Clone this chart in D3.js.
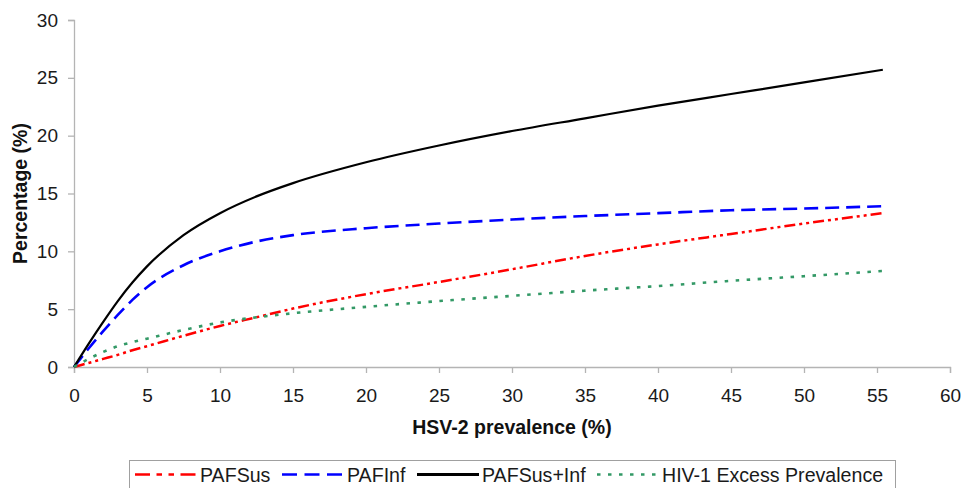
<!DOCTYPE html>
<html>
<head>
<meta charset="utf-8">
<script src="https://cdn.jsdelivr.net/npm/d3@7"></script>
<style>
  html, body { margin: 0; padding: 0; background: #fff; }
  svg { display: block; font-family: "Liberation Sans", Arial, sans-serif; }
</style>
</head>
<body>
<svg id="chart" width="963" height="488"></svg>
<script>
// ---- data ----
const hsv2 = [0, 1, 2, 3, 4, 5, 7.5, 10, 12.5, 15, 20, 25, 30, 35, 40, 45, 50, 55.4];
const pafSus = [0, 0.35, 0.7, 1.05, 1.45, 1.8, 2.7, 3.55, 4.3, 5.05, 6.3, 7.35, 8.45, 9.6, 10.6, 11.5, 12.4, 13.3];
const pafInf = [0, 1.6, 3.1, 4.5, 5.8, 6.9, 8.8, 10.0, 10.85, 11.4, 12.0, 12.4, 12.75, 13.05, 13.3, 13.55, 13.7, 13.9];
const pafSusInf = [0, 2.0, 3.9, 5.7, 7.3, 8.7, 11.4, 13.3, 14.75, 15.9, 17.7, 19.15, 20.4, 21.5, 22.6, 23.6, 24.6, 25.7];
const hivExcess = [0, 0.7, 1.3, 1.8, 2.15, 2.45, 3.2, 3.85, 4.3, 4.65, 5.2, 5.7, 6.15, 6.6, 7.0, 7.45, 7.85, 8.3];
const seriesNames = ["PAFSus", "PAFInf", "PAFSus+Inf", "HIV-1 Excess Prevalence"];
const xTicks = [0, 5, 10, 15, 20, 25, 30, 35, 40, 45, 50, 55, 60];
const yTicks = [0, 5, 10, 15, 20, 25, 30];
const xTitle = "HSV-2 prevalence (%)";
const yTitle = "Percentage (%)";

// ---- styles ----
const styles = [
  { color: "#ff0000", dash: "11,4,3,4,3,4", legendDash: "15,6.5,5.5,6.5,5.5,6.5", width: 2.5 },
  { color: "#0000ff", dash: "14,7", legendDash: "15,7.5", width: 2.6 },
  { color: "#000000", dash: null, legendDash: null, width: 2.2 },
  { color: "#339966", dash: "3.5,7.5", legendDash: "3.5,7.5", width: 2.6 }
];
const seriesValues = [pafSus, pafInf, pafSusInf, hivExcess];

const svg = d3.select("#chart");
const mLeft = 74, mRight = 950, mTop = 20, mBottom = 367;

const x = d3.scaleLinear().domain([0, 60]).range([mLeft, mRight]);
const y = d3.scaleLinear().domain([0, 30]).range([mBottom, mTop]);
const axisColor = "#b4b4b4";

// x axis
const gx = svg.append("g").attr("transform", `translate(0,${mBottom})`)
  .call(d3.axisBottom(x).tickValues(xTicks).tickSize(6).tickPadding(16).tickFormat(d3.format("d")));
// y axis
const gy = svg.append("g").attr("transform", `translate(${mLeft},0)`)
  .call(d3.axisLeft(y).tickValues(yTicks).tickSize(6).tickPadding(10).tickFormat(d3.format("d")));

[gx, gy].forEach(g => {
  g.select(".domain").attr("stroke", axisColor).attr("stroke-width", 1.3);
  g.selectAll(".tick line").attr("stroke", axisColor).attr("stroke-width", 1.3);
  g.selectAll(".tick text").attr("fill", "#1a1a1a").attr("font-size", 19)
    .attr("font-family", "'Liberation Sans', Arial, sans-serif");
});

// titles
svg.append("text").attr("x", (mLeft + mRight) / 2).attr("y", 434)
  .attr("text-anchor", "middle").attr("font-weight", "bold").attr("font-size", 19.5)
  .attr("fill", "#111").text(xTitle);
svg.append("text").attr("transform", `translate(27,${(mTop + mBottom) / 2}) rotate(-90)`)
  .attr("text-anchor", "middle").attr("font-weight", "bold").attr("font-size", 19.5)
  .attr("fill", "#111").text(yTitle);

// lines
const line = d3.line().x(d => x(d[0])).y(d => y(d[1])).curve(d3.curveMonotoneX);
seriesValues.forEach((vals, i) => {
  const pts = hsv2.map((h, j) => [h, vals[j]]);
  svg.append("path").datum(pts)
    .attr("d", line)
    .attr("fill", "none")
    .attr("stroke", styles[i].color)
    .attr("stroke-width", styles[i].width)
    .attr("stroke-dasharray", styles[i].dash)
    .attr("stroke-linecap", "butt");
});

// legend
const lg = svg.append("g");
lg.append("rect").attr("x", 129.5).attr("y", 460.5).attr("width", 766).attr("height", 45)
  .attr("fill", "#fff").attr("stroke", "#a0a0a0").attr("stroke-width", 1);
const legendX = [135, 282, 417, 597];
const sampleW = 62;
seriesNames.forEach((name, i) => {
  const lx = legendX[i];
  lg.append("line").attr("x1", lx).attr("x2", lx + sampleW).attr("y1", 474.5).attr("y2", 474.5)
    .attr("stroke", styles[i].color).attr("stroke-width", i === 2 ? 3 : styles[i].width)
    .attr("stroke-dasharray", styles[i].legendDash);
  lg.append("text").attr("x", lx + sampleW + 3).attr("y", 481.5)
    .attr("font-size", 19.6).attr("fill", "#1a1a1a").text(name);
});
</script>
</body>
</html>
